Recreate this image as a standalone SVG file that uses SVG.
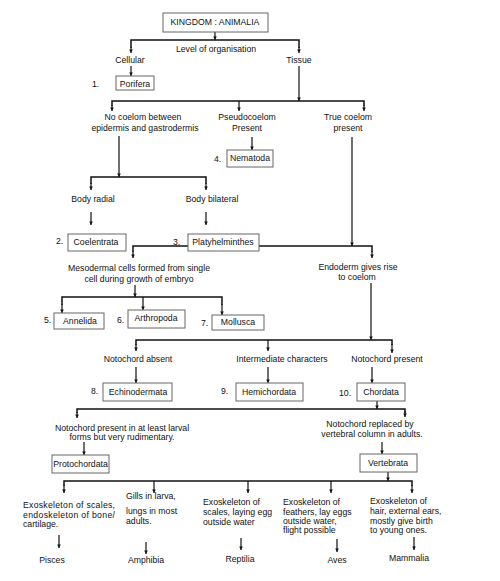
<svg xmlns="http://www.w3.org/2000/svg" width="500" height="581" viewBox="0 0 500 581">
<style>
text{font-family:"Liberation Sans",Arial,sans-serif;font-size:8.7px;fill:#111}
.c{text-anchor:middle}
.box rect{fill:#fff;stroke:#666;stroke-width:1}
#connectors path{fill:none;stroke:#111;stroke-width:1.2}
#connectors path.h{stroke-width:1.5}
</style>
<defs>
<marker id="ah" viewBox="0 0 4 4" refX="4" refY="2" markerWidth="4" markerHeight="3.6" markerUnits="userSpaceOnUse" orient="auto">
<path d="M0,0 L4,2 L0,4 z" fill="#111"/>
</marker>
</defs>
<rect width="500" height="581" fill="#fff"/>

<g id="connectors">
<path d="M215,32 V40" marker-end="url(#ah)"/>
<path class="h" d="M131,48 V40 H299 V48" />
<path d="M131,47 V53" marker-end="url(#ah)"/>
<path d="M299,47 V53" marker-end="url(#ah)"/>
<path d="M131,66 V76" marker-end="url(#ah)"/>
<path d="M299,66 V101" marker-end="url(#ah)"/>
<path class="h" d="M112,106 V101 H364 V106"/>
<path d="M112,105 V111" marker-end="url(#ah)"/>
<path d="M239,101 V111" marker-end="url(#ah)"/>
<path d="M364,105 V111" marker-end="url(#ah)"/>
<path d="M252,137 V150" marker-end="url(#ah)"/>
<path d="M119,136 V177" marker-end="url(#ah)"/>
<path class="h" d="M91,184 V177 H206 V184"/>
<path d="M91,183 V190" marker-end="url(#ah)"/>
<path d="M206,183 V190" marker-end="url(#ah)"/>
<path d="M91,212 V225" marker-end="url(#ah)"/>
<path d="M206,212 V225" marker-end="url(#ah)"/>
<path d="M352,137 V246" marker-end="url(#ah)"/>
<path class="h" d="M133,252 V246 H372 V252"/>
<path d="M133,251 V258" marker-end="url(#ah)"/>
<path d="M372,251 V258" marker-end="url(#ah)"/>
<path d="M135,285 V297" marker-end="url(#ah)"/>
<path class="h" d="M62,305 V297 H222 V305"/>
<path d="M62,304 V313" marker-end="url(#ah)"/>
<path d="M143,297 V310" marker-end="url(#ah)"/>
<path d="M222,304 V315" marker-end="url(#ah)"/>
<path d="M371,283 V340" marker-end="url(#ah)"/>
<path class="h" d="M136,345 V340 H392 V345"/>
<path d="M136,344 V351" marker-end="url(#ah)"/>
<path d="M268,340 V351" marker-end="url(#ah)"/>
<path d="M392,344 V353" marker-end="url(#ah)"/>
<path d="M136,367 V383" marker-end="url(#ah)"/>
<path d="M268,367 V383" marker-end="url(#ah)"/>
<path d="M372,367 V383" marker-end="url(#ah)"/>
<path d="M377,401 V409" marker-end="url(#ah)"/>
<path class="h" d="M77,413 V409 H405 V413"/>
<path d="M77,412 V418" marker-end="url(#ah)"/>
<path d="M405,411 V417" marker-end="url(#ah)"/>
<path d="M84,442 V455" marker-end="url(#ah)"/>
<path d="M382,442 V454" marker-end="url(#ah)"/>
<path d="M388,472 V481" marker-end="url(#ah)"/>
<path class="h" d="M64,486 V481 H412 V486"/>
<path d="M64,485 V493" marker-end="url(#ah)"/>
<path d="M154,481 V493" marker-end="url(#ah)"/>
<path d="M248,481 V493" marker-end="url(#ah)"/>
<path d="M331,481 V493" marker-end="url(#ah)"/>
<path d="M412,485 V493" marker-end="url(#ah)"/>
<path d="M59,535 V548" marker-end="url(#ah)"/>
<path d="M146,542 V554" marker-end="url(#ah)"/>
<path d="M241,538 V550" marker-end="url(#ah)"/>
<path d="M337,539 V552" marker-end="url(#ah)"/>
<path d="M414,537 V550" marker-end="url(#ah)"/>
</g>

<g id="kingdom" class="box"><rect x="163" y="13" width="105" height="19"/><text class="c" x="215" y="25">KINGDOM : ANIMALIA</text></g>
<g id="level"><text class="c" x="216" y="52">Level of organisation</text></g>
<g id="cellular"><text class="c" x="130" y="63">Cellular</text></g>
<g id="tissue"><text class="c" x="299" y="63">Tissue</text></g>
<g id="porifera" class="box"><text x="92" y="87">1.</text><rect x="116" y="76" width="38" height="14"/><text class="c" x="135" y="86.5">Porifera</text></g>
<g id="nocoelom"><text class="c" x="143" y="120">No coelom between</text><text class="c" x="145" y="131">epidermis and gastrodermis</text></g>
<g id="pseudocoelom"><text class="c" x="247" y="120">Pseudocoelom</text><text class="c" x="247" y="131">Present</text></g>
<g id="truecoelom"><text class="c" x="348" y="120">True coelom</text><text class="c" x="348" y="131">present</text></g>
<g id="nematoda" class="box"><text x="214" y="162">4.</text><rect x="227" y="150" width="46" height="17"/><text class="c" x="250" y="161">Nematoda</text></g>
<g id="bodyradial"><text class="c" x="93" y="202">Body radial</text></g>
<g id="bodybilateral"><text class="c" x="212" y="202">Body bilateral</text></g>
<g id="coelentrata" class="box"><text x="56" y="244">2.</text><rect x="68" y="234" width="58" height="17"/><text class="c" x="96" y="245">Coelentrata</text></g>
<g id="platyhelminthes" class="box"><text x="173" y="245">3.</text><rect x="188" y="234" width="71" height="17"/><text class="c" x="223" y="245">Platyhelminthes</text></g>
<g id="mesodermal"><text class="c" x="139" y="271">Mesodermal cells formed from single</text><text class="c" x="139" y="282">cell during growth of embryo</text></g>
<g id="endoderm"><text class="c" x="358" y="270">Endoderm gives rise</text><text class="c" x="357" y="280">to coelom</text></g>
<g id="annelida" class="box"><text x="44" y="323">5.</text><rect x="54" y="313" width="50" height="16"/><text class="c" x="80" y="323.5">Annelida</text></g>
<g id="arthropoda" class="box"><text x="117" y="323">6.</text><rect x="128" y="310" width="57" height="18"/><text class="c" x="156" y="320.5">Arthropoda</text></g>
<g id="mollusca" class="box"><text x="201" y="326">7.</text><rect x="212" y="315" width="52" height="15"/><text class="c" x="238" y="325">Mollusca</text></g>
<g id="notoabsent"><text class="c" x="138" y="362">Notochord absent</text></g>
<g id="intermediate"><text class="c" x="282" y="362">Intermediate characters</text></g>
<g id="notopresent"><text class="c" x="387" y="362">Notochord present</text></g>
<g id="echinodermata" class="box"><text x="91" y="394">8.</text><rect x="103" y="383" width="69" height="18"/><text class="c" x="138" y="394.5">Echinodermata</text></g>
<g id="hemichordata" class="box"><text x="221" y="394">9.</text><rect x="236" y="383" width="67" height="18"/><text class="c" x="269" y="394.5">Hemichordata</text></g>
<g id="chordata" class="box"><text x="339" y="396">10.</text><rect x="357" y="383" width="48" height="18"/><text class="c" x="381" y="395">Chordata</text></g>
<g id="notolarval"><text class="c" x="122" y="431">Notochord present in at least larval</text><text class="c" x="122" y="440">forms but very rudimentary.</text></g>
<g id="notoreplaced"><text class="c" x="370" y="427">Notochord replaced by</text><text class="c" x="372" y="437">vertebral column in adults.</text></g>
<g id="protochordata" class="box"><rect x="52" y="455" width="57" height="18"/><text class="c" x="80.5" y="466.5">Protochordata</text></g>
<g id="vertebrata" class="box"><rect x="360" y="454" width="57" height="18"/><text class="c" x="388" y="465.5">Vertebrata</text></g>
<g id="pisces"><text x="23" y="508" textLength="92" lengthAdjust="spacing">Exoskeleton of scales,</text><text x="23" y="517.5" textLength="92" lengthAdjust="spacing">endoskeleton of bone/</text><text x="23" y="527">cartilage.</text><text class="c" x="52" y="563">Pisces</text></g>
<g id="amphibia"><text x="126" y="499">Gills in larva,</text><text x="126" y="514">lungs in most</text><text x="126" y="524">adults.</text><text class="c" x="146" y="563">Amphibia</text></g>
<g id="reptilia"><text x="203" y="505">Exoskeleton of</text><text x="203" y="515">scales, laying egg</text><text x="203" y="525">outside water</text><text class="c" x="240" y="562">Reptilia</text></g>
<g id="aves"><text x="283" y="505">Exoskeleton of</text><text x="283" y="515">feathers, lay eggs</text><text x="283" y="524">outside water,</text><text x="283" y="533">flight possible</text><text class="c" x="337" y="563">Aves</text></g>
<g id="mammalia"><text x="370" y="504">Exoskeleton of</text><text x="370" y="514">hair, external ears,</text><text x="370" y="524">mostly give birth</text><text x="370" y="533">to young ones.</text><text class="c" x="409" y="561">Mammalia</text></g>
</svg>
